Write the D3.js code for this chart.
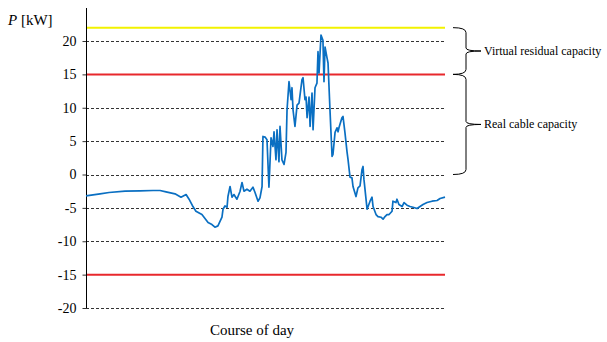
<!DOCTYPE html>
<html>
<head>
<meta charset="utf-8">
<script src="https://cdn.jsdelivr.net/npm/d3@7"></script>
<style>
  body { margin: 0; background: #fff; }
  svg { display: block; }
  text { font-family: "Liberation Serif", serif; }
</style>
</head>
<body>
<svg id="root"></svg>
<script>
const width = 607;
const height = 342;

// course of day (hours) and power P [kW]
const hours = [0.00, 0.94, 1.54, 2.61, 3.61, 4.48, 4.95, 5.35, 5.95, 6.35, 6.69, 6.89, 7.15, 7.35, 7.75,
  8.16, 8.42, 8.62, 8.82, 9.09, 9.16, 9.29, 9.43, 9.49, 9.63, 9.76, 9.89, 10.09, 10.30, 10.43, 10.56,
  10.76, 10.96, 11.16, 11.30, 11.50, 11.63, 11.77, 11.83, 11.97, 12.10, 12.23, 12.37, 12.50, 12.57,
  12.70, 12.77, 12.90, 12.97, 13.10, 13.24, 13.37, 13.44, 13.57, 13.71, 13.77, 13.84, 13.97, 14.11,
  14.24, 14.44, 14.51, 14.64, 14.71, 14.78, 14.91, 14.98, 15.11, 15.18, 15.31, 15.44, 15.51, 15.58,
  15.71, 15.84, 15.91, 15.98, 16.11, 16.18, 16.31, 16.45, 16.51, 16.65, 16.78, 16.85, 16.91, 17.11,
  17.18, 17.31, 17.45, 17.52, 17.65, 17.78, 17.85, 18.05, 18.18, 18.32, 18.45, 18.52, 18.58, 18.72,
  18.79, 18.99, 19.12, 19.19, 19.39, 19.52, 19.72, 19.86, 19.99, 20.12, 20.26, 20.46, 20.52, 20.72,
  20.79, 20.92, 21.13, 21.26, 21.46, 21.66, 21.86, 22.13, 22.33, 22.53, 22.80, 23.13, 23.47, 23.67, 24.00];
const power = [-3.2, -2.9, -2.7, -2.5, -2.45, -2.4, -2.4, -2.6, -2.9, -3.4, -3.0, -3.7, -4.8, -5.5, -6.0,
  -7.2, -7.5, -7.9, -7.7, -6.4, -5.2, -4.7, -4.9, -3.3, -1.8, -3.4, -3.0, -3.7, -2.5, -1.2, -2.5,
  -2.2, -2.5, -1.9, -2.7, -4.0, -3.5, -1.8, 5.7, 5.6, 5.2, -1.9, 5.5, 4.2, 6.4,
  2.2, 6.7, 1.9, 7.2, 2.2, 1.5, 3.3, 9.7, 13.9, 11.2, 13.0, 9.7, 7.2, 10.4,
  10.7, 14.2, 14.5, 11.2, 11.6, 8.5, 11.6, 7.2, 12.2, 6.7, 13.0, 13.7, 18.4, 15.2,
  20.9, 20.1, 13.9, 19.1, 17.5, 16.7, 9.7, 2.7, 3.0, 6.3, 7.0, 6.4, 7.0, 8.5,
  8.7, 6.3, 3.4, 2.2, -0.4, -0.5, -1.8, -3.3, -2.0, -1.7, 0.7, 1.2, -0.7, -3.7,
  -5.2, -4.0, -3.4, -4.8, -6.0, -6.3, -6.4, -6.7, -6.3, -6.0, -6.0, -5.5, -4.0, -4.2,
  -3.7, -4.5, -4.8, -4.2, -4.6, -4.8, -4.9, -5.1, -4.8, -4.5, -4.2, -4.0, -3.9, -3.6, -3.4];

const yTicks = [20, 15, 10, 5, 0, -5, -10, -15, -20];
const gridLevels = [20, 10, 5, 0, -5, -10, -20];
const cableLimits = [15, -15];
const virtualLimit = 22;
const braces = [
  { from: 22, to: 15, label: "Virtual residual capacity" },
  { from: 15, to: 0, label: "Real cable capacity" }
];

const serif = "Liberation Serif";
const svg = d3.select("#root").attr("width", width).attr("height", height);

const x = d3.scaleLinear().domain([0, 24]).range([86, 445]);
const y = d3.scaleLinear().domain([-20, 20]).range([308, 41]);

// dashed grid
svg.append("g")
  .selectAll("line")
  .data(gridLevels)
  .enter()
  .append("line")
  .attr("x1", 86).attr("x2", 445)
  .attr("y1", d => Math.round(y(d)) + 0.5)
  .attr("y2", d => Math.round(y(d)) + 0.5)
  .attr("stroke", "#333")
  .attr("stroke-width", 1)
  .attr("stroke-dasharray", "3,2");

// cable capacity limits
svg.append("g")
  .selectAll("line")
  .data(cableLimits)
  .enter()
  .append("line")
  .attr("x1", 86).attr("x2", 445)
  .attr("y1", d => y(d)).attr("y2", d => y(d))
  .attr("stroke", "#e8282c")
  .attr("stroke-width", 2);

// virtual capacity
svg.append("line")
  .attr("x1", 86).attr("x2", 445)
  .attr("y1", y(virtualLimit)).attr("y2", y(virtualLimit))
  .attr("stroke", "#f2f200")
  .attr("stroke-width", 2);

// y axis
const yAxis = d3.axisLeft(y)
  .tickValues(yTicks)
  .tickFormat(d => String(d))
  .tickSize(4)
  .tickPadding(6);
const ag = svg.append("g")
  .attr("transform", "translate(86.5,0)")
  .call(yAxis)
  .attr("font-family", serif)
  .attr("font-size", 14);
ag.select(".domain").remove();
ag.selectAll(".tick line").attr("stroke", "#333");
ag.selectAll(".tick text").attr("fill", "#000");
svg.append("line")
  .attr("x1", 86.5).attr("x2", 86.5)
  .attr("y1", 8).attr("y2", y(-20))
  .attr("stroke", "#000")
  .attr("stroke-width", 1);

// power curve
const line = d3.line()
  .x((d, i) => x(hours[i]))
  .y(d => y(d));
svg.append("path")
  .attr("d", line(power))
  .attr("fill", "none")
  .attr("stroke", "#0a6fc2")
  .attr("stroke-width", 1.7)
  .attr("stroke-linejoin", "round");

// braces
const braceX0 = 453, braceX1 = 466, tipX = 481;
const bracePath = (a, b) => {
  const ya = y(a), yb = y(b), ym = (ya + yb) / 2;
  return `M${braceX0},${ya} Q${braceX1},${ya} ${braceX1},${ya + 5}`
    + ` L${braceX1},${ym - 3} Q${braceX1},${ym} ${tipX},${ym}`
    + ` Q${braceX1},${ym} ${braceX1},${ym + 3}`
    + ` L${braceX1},${yb - 5} Q${braceX1},${yb} ${braceX0},${yb}`;
};
const bg = svg.append("g").selectAll("g").data(braces).enter().append("g");
bg.append("path")
  .attr("d", d => bracePath(d.from, d.to))
  .attr("fill", "none")
  .attr("stroke", "#000")
  .attr("stroke-width", 1);
bg.append("text")
  .attr("x", tipX + 3)
  .attr("y", d => (y(d.from) + y(d.to)) / 2 + 4)
  .attr("font-family", serif)
  .attr("font-size", 12)
  .text(d => d.label);

// axis titles
const pt = svg.append("text").attr("x", 8).attr("y", 25)
  .attr("font-family", serif).attr("font-size", 15);
pt.append("tspan").attr("font-style", "italic").text("P");
pt.append("tspan").text(" [kW]");

svg.append("text")
  .attr("x", 252).attr("y", 335)
  .attr("text-anchor", "middle")
  .attr("font-family", serif)
  .attr("font-size", 15)
  .text("Course of day");
</script>
</body>
</html>
